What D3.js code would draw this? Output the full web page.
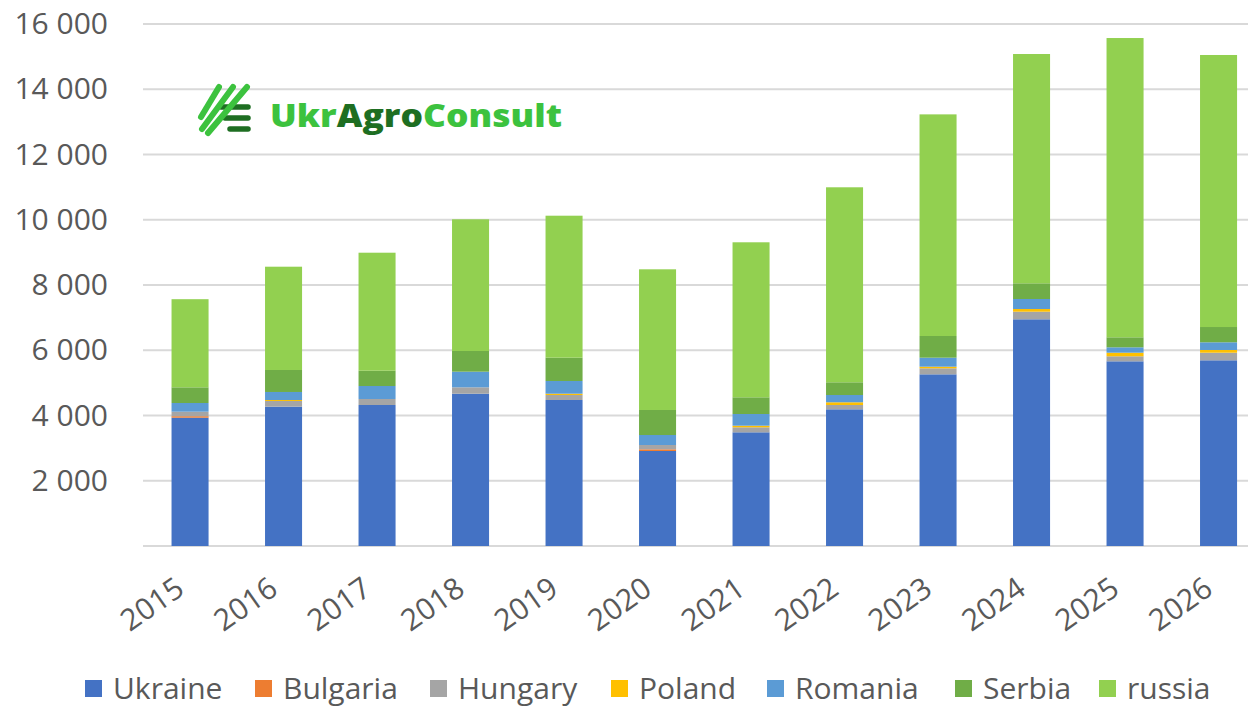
<!DOCTYPE html>
<html>
<head>
<meta charset="utf-8">
<script src="https://cdn.jsdelivr.net/npm/d3@7"></script>
<style>
  html, body { margin: 0; padding: 0; background: #fff; }
  svg { display: block; }
  text { font-family: "Open Sans", "DejaVu Sans", sans-serif; }
</style>
</head>
<body>
<svg id="chart" width="1250" height="707"></svg>
<script>
// ---- data ----
const years = ["2015","2016","2017","2018","2019","2020","2021","2022","2023","2024","2025","2026"];
const seriesNames = ["Ukraine","Bulgaria","Hungary","Poland","Romania","Serbia","russia"];
const ukraine  = [3933, 4270, 4322, 4668, 4475, 2912, 3485, 4190, 5262, 6949, 5661, 5692];
const bulgaria = [  45,    0,    0,    0,    0,   52,    0,    0,    0,    0,    0,    0];
const hungary  = [ 139,  175,  184,  196,  153,  132,  153,  132,  185,  233,  154,  233];
const poland   = [   0,   30,    0,    0,   40,    0,   49,   83,   49,   82,  110,   83];
const romania  = [ 266,  246,  398,  479,  390,  306,  359,  223,  276,  307,  165,  236];
const serbia   = [ 481,  674,  469,  634,  714,  767,  512,  390,  665,  481,  307,  468];
const russia   = [2701, 3166, 3617, 4037, 4352, 4312, 4751, 5977, 6793, 7028, 9173, 8338];
const colors   = ["#4472C4","#ED7D31","#A5A5A5","#FFC000","#5B9BD5","#70AD47","#92D050"];
const yTicks   = [0, 2000, 4000, 6000, 8000, 10000, 12000, 14000, 16000];

const seriesValues = [ukraine, bulgaria, hungary, poland, romania, serbia, russia];
const rows = years.map((y, i) => {
  const r = { year: y };
  seriesNames.forEach((s, j) => r[s] = seriesValues[j][i]);
  return r;
});

const FS = 30;
const svg = d3.select("#chart");
const x = d3.scaleBand().domain(years).range([143.3, 1265.3]).paddingInner(0.604).paddingOuter(0.302);
const y = d3.scaleLinear().domain([0, 16000]).range([546, 24]);
const color = d3.scaleOrdinal().domain(seriesNames).range(colors);

// gridlines
svg.append("g").selectAll("line").data(yTicks).join("line")
  .attr("x1", 143).attr("x2", 1248)
  .attr("y1", d => y(d)).attr("y2", d => y(d))
  .attr("stroke", "#D9D9D9").attr("stroke-width", 2);

// y axis labels
const yAxis = d3.axisLeft(y).tickValues(yTicks.filter(d => d > 0))
  .tickSize(0).tickPadding(35)
  .tickFormat(d => d3.format(",")(d).replace(/,/g, " "));
const gy = svg.append("g").attr("transform", "translate(143,0)").call(yAxis);
gy.select(".domain").remove();
gy.selectAll("text").attr("fill", "#595959").attr("font-size", FS)
  .attr("font-family", '"Open Sans", sans-serif');

// logo
const logo = svg.append("g");
[[221, 107], [225, 118], [230, 129]].forEach(([x0, yy]) => {
  logo.append("line").attr("x1", x0).attr("x2", 248).attr("y1", yy).attr("y2", yy)
    .attr("stroke", "#1E6E22").attr("stroke-width", 5.5).attr("stroke-linecap", "round");
});
[[201, 117, 219, 87], [202, 129, 233, 87], [208, 133, 247, 87]].forEach(([a, b, c, d]) => {
  logo.append("line").attr("x1", a).attr("y1", b).attr("x2", c).attr("y2", d)
    .attr("stroke", "#3CC23E").attr("stroke-width", 6).attr("stroke-linecap", "round");
});
const lt = logo.append("text").attr("x", 270).attr("y", 127)
  .attr("font-size", 32).attr("font-weight", 900)
  .attr("font-family", 'Lato, "Open Sans", sans-serif')
  .attr("textLength", 292).attr("lengthAdjust", "spacingAndGlyphs");
lt.append("tspan").attr("fill", "#3CC23E").text("Ukr");
lt.append("tspan").attr("fill", "#1E6E22").text("Agro");
lt.append("tspan").attr("fill", "#3CC23E").text("Consult");

// bars
const stack = d3.stack().keys(seriesNames);
const stacked = stack(rows);
svg.append("g").selectAll("g").data(stacked).join("g")
  .attr("fill", d => color(d.key))
  .selectAll("rect").data(d => d).join("rect")
  .attr("x", d => x(d.data.year))
  .attr("width", x.bandwidth())
  .attr("y", d => y(d[1]))
  .attr("height", d => Math.max(0, y(d[0]) - y(d[1])));

// x axis
const xAxis = d3.axisBottom(x).tickSize(0).tickPadding(0);
const gx = svg.append("g").attr("transform", "translate(0,546)").call(xAxis);
gx.select(".domain").remove();
gx.selectAll("text")
  .attr("fill", "#595959").attr("font-size", FS)
  .attr("font-family", '"Open Sans", sans-serif')
  .attr("text-anchor", "end").attr("dy", 0).attr("y", 0)
  .attr("transform", "translate(-4,47) rotate(-35)");

// legend
const legendTextX = [113, 283, 458, 639, 795, 983, 1127];
const lg = svg.append("g");
seriesNames.forEach((s, i) => {
  lg.append("rect").attr("x", legendTextX[i] - 28).attr("y", 680).attr("width", 17).attr("height", 17)
    .attr("fill", color(s));
  lg.append("text").attr("x", legendTextX[i]).attr("y", 699)
    .attr("font-size", FS).attr("fill", "#595959").text(s);
});
</script>
</body>
</html>
